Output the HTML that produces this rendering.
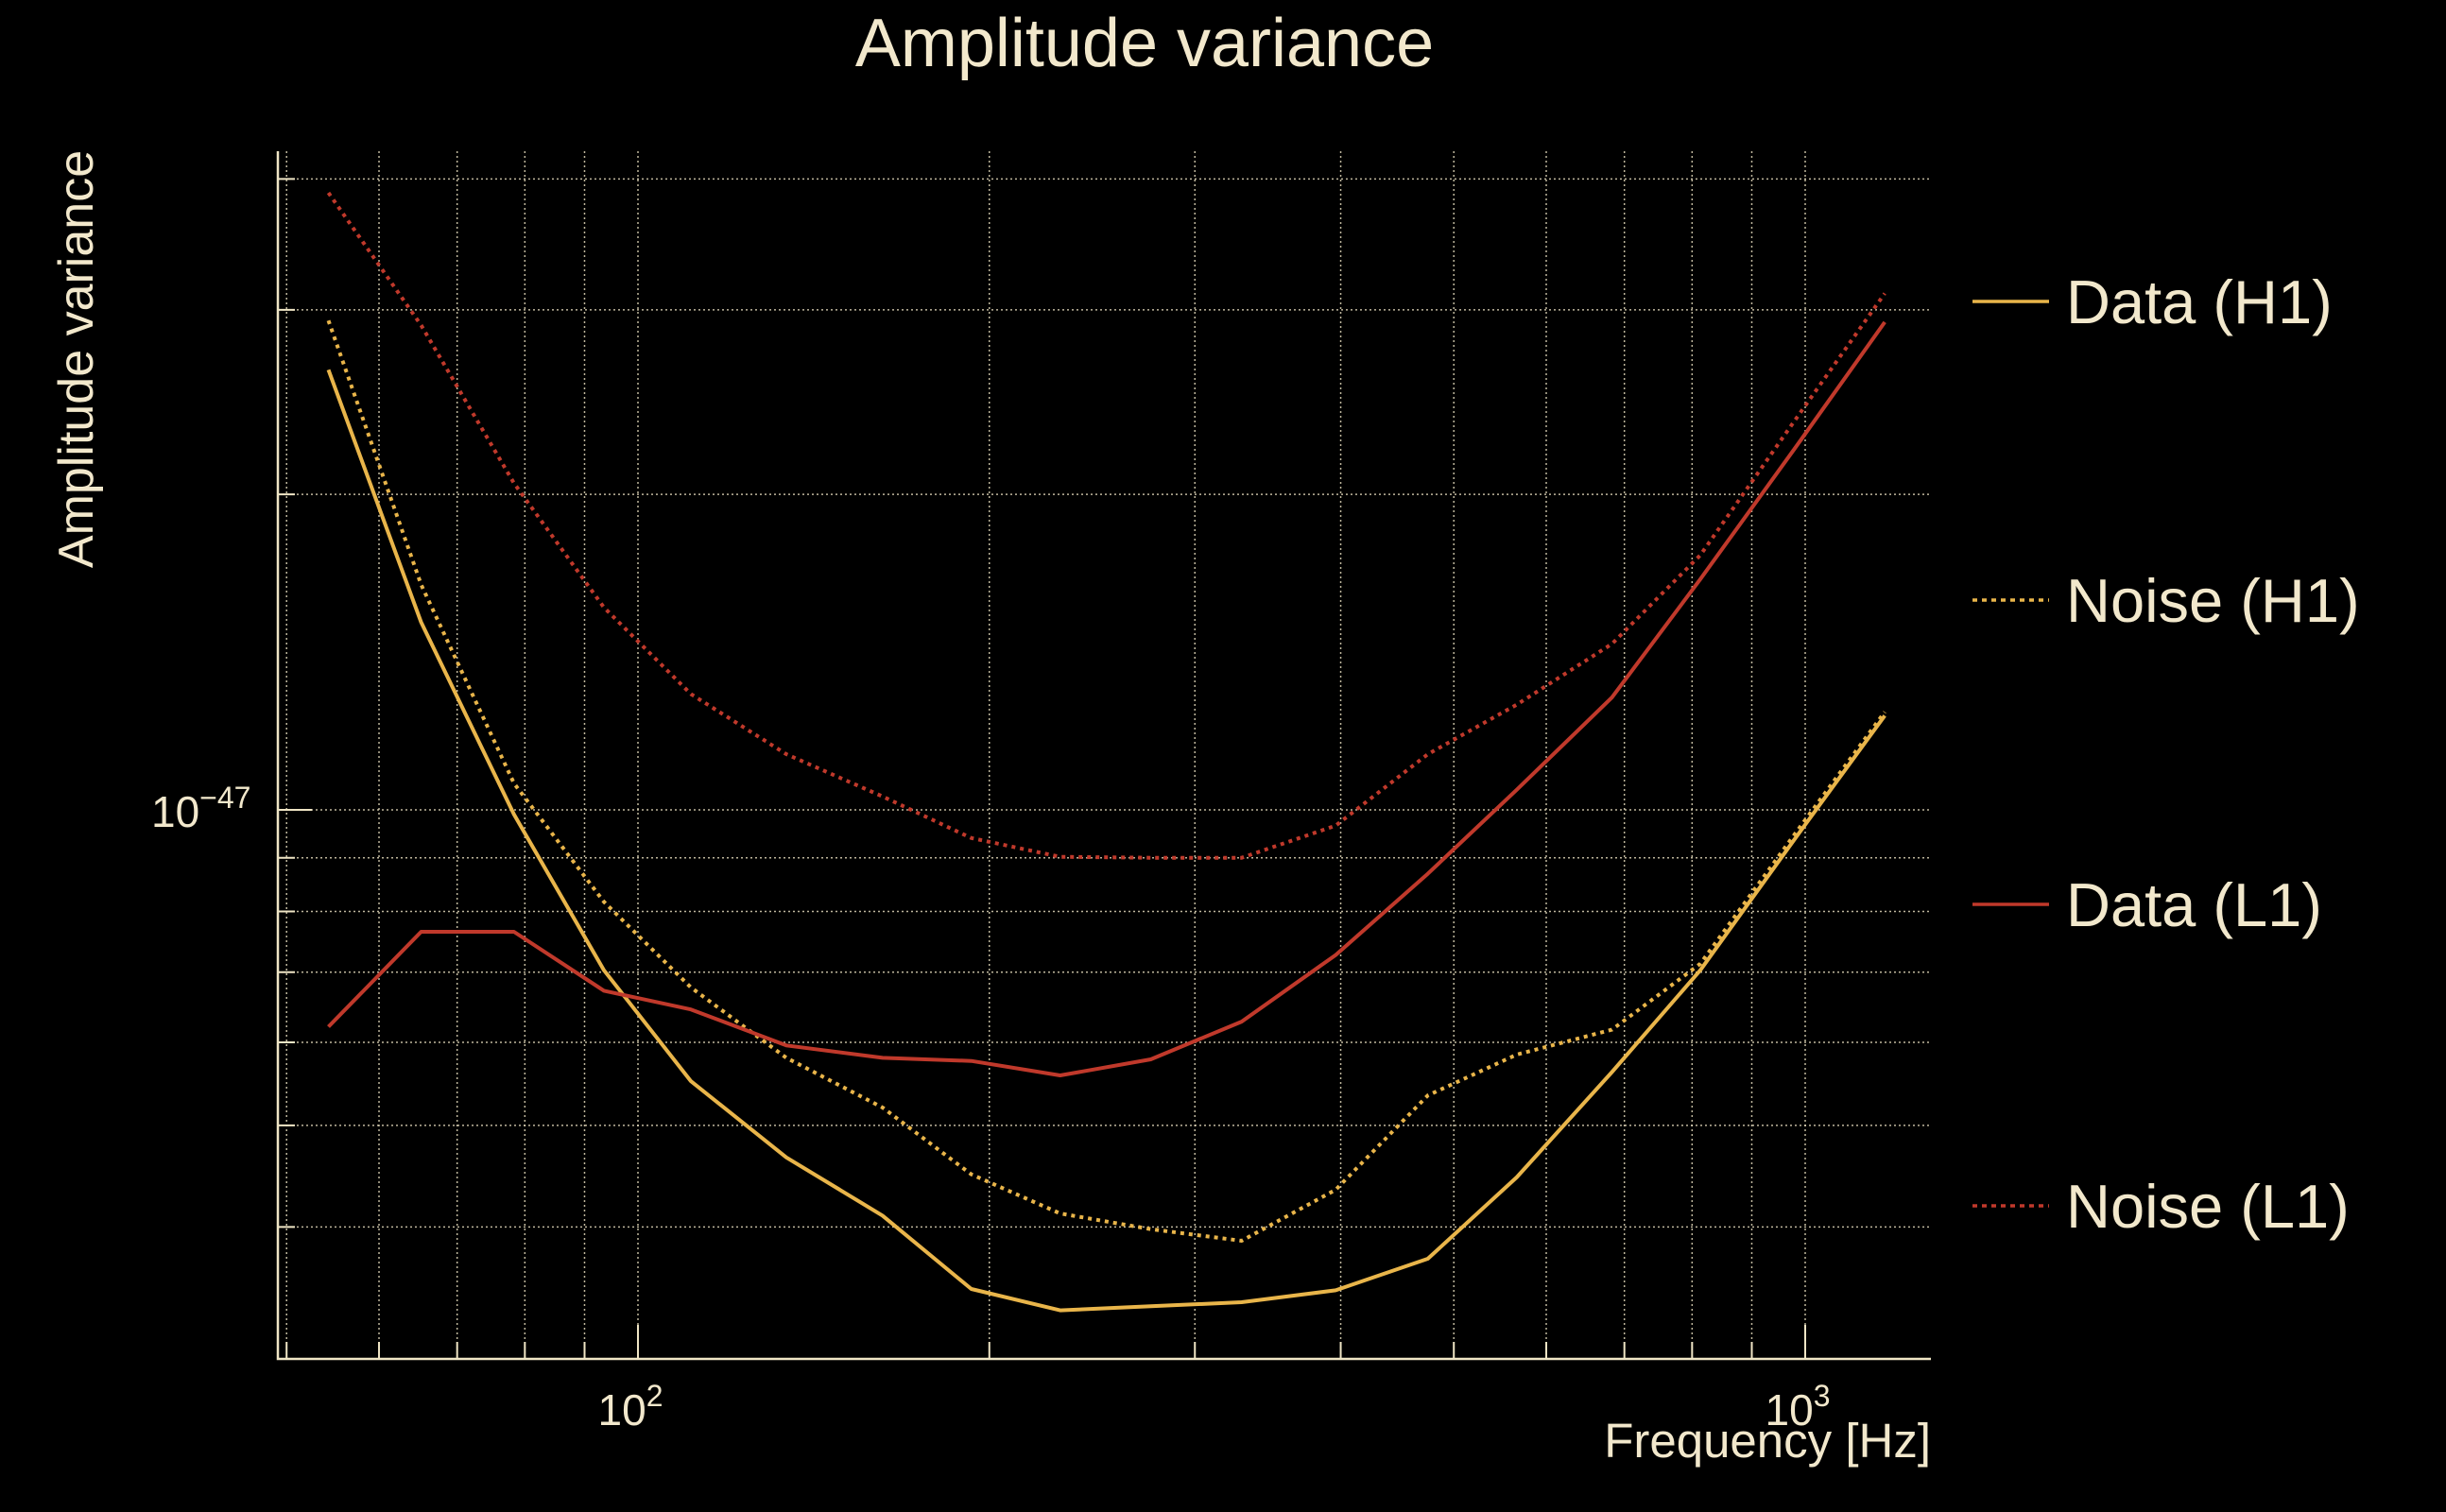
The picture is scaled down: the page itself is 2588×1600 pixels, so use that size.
<!DOCTYPE html>
<html><head><meta charset="utf-8"><style>
html,body{margin:0;padding:0;background:#000;}
svg{display:block;}
text{font-family:"Liberation Sans",sans-serif;fill:#f2e8cc;}
</style></head><body>
<svg id="chart" width="2588" height="1600" viewBox="0 0 2588 1600" xmlns="http://www.w3.org/2000/svg">
<rect width="2588" height="1600" fill="#000"/>
<text x="1211" y="70" font-size="72" text-anchor="middle">Amplitude variance</text>
<text transform="translate(98,380) rotate(-90)" font-size="52" text-anchor="middle">Amplitude variance</text>
<text x="2043" y="1542" font-size="51" text-anchor="end">Frequency [Hz]</text>
<g id="grid"></g>
<g id="series"></g>
<g id="legend"></g>
</svg>
<script>
const freqs = [54.3,65.2,78.3,93.5,111,134,162,193,230,275,329,396,475,566,683,813,979,1170];
const dataH1 = [26.3,15.1,9.90,7.03,5.51,4.66,4.10,3.49,3.33,3.36,3.39,3.48,3.73,4.46,5.62,7.03,9.37,12.3];
const noiseH1 = [29.3,16.4,10.6,8.17,6.77,5.80,5.20,4.49,4.12,3.98,3.88,4.34,5.34,5.84,6.17,7.13,9.47,12.4];
const dataL1 = [6.21,7.65,7.65,6.72,6.45,5.96,5.80,5.76,5.58,5.78,6.28,7.27,8.69,10.45,12.8,16.6,22.1,29.2];
const noiseL1 = [38.8,29.0,20.5,15.6,12.9,11.3,10.3,9.40,9.02,9.0,9.0,9.66,11.3,12.6,14.4,17.5,23.5,31.1];
const xGridVals = [50,60,70,80,90,100,200,300,400,500,600,700,800,900,1000];
const yGridVals = [4,5,6,7,8,9,10,20,30,40];
const legendLabels = ["Data (H1)","Noise (H1)","Data (L1)","Noise (L1)"];

const L=294,R=2043,T=160,B=1438;
const NS="http://www.w3.org/2000/svg";
function xs(f){return 675+(Math.log10(f)-2)*1235;}
function ys(v){return 857-(Math.log10(v)-1)*1109;}
function mk(tag,attrs,parent){const e=document.createElementNS(NS,tag);for(const k in attrs)e.setAttribute(k,attrs[k]);parent.appendChild(e);return e;}
const grid=document.getElementById('grid');
const GC="#efe5c5";
xGridVals.forEach(f=>{
  const x=xs(f);
  const l=mk('line',{x1:x,x2:x,y1:T,y2:B,stroke:GC,'stroke-width':1.5,'stroke-dasharray':'2 3',opacity:0.8},grid);
  
  
  const major=(f===100||f===1000);
  const t=mk('line',{x1:x,x2:x,y1:B,y2:B-(major?36:18),stroke:GC,'stroke-width':2},grid);
  
  
});
yGridVals.forEach(v=>{
  const y=ys(v);
  const l=mk('line',{x1:L,x2:R,y1:y,y2:y,stroke:GC,'stroke-width':1.5,'stroke-dasharray':'2 3',opacity:0.8},grid);
  
  
  const major=(v===10);
  const t=mk('line',{x1:L,x2:L+(major?36:18),y1:y,y2:y,stroke:GC,'stroke-width':2},grid);
  
  
});
const ax=mk('path',{d:`M${L} ${T} V${B} H${R}`,fill:'none',stroke:GC,'stroke-width':2.5},grid);


[[100,"2"],[1000,"3"]].forEach(([f,e])=>{
  const t=mk('text',{x:xs(f)-8,y:1508,'font-size':46,'text-anchor':'middle'},grid);
  
  
  t.innerHTML='10<tspan dy="-20" font-size="32">'+e+'</tspan>';
});
{
  const t=mk('text',{x:160,y:ys(10)+18,'font-size':46},grid);
  
  
  t.innerHTML='10<tspan dy="-20" font-size="32">−47</tspan>';
}
const series=[
  {vals:dataH1,color:'#e9b54a',dash:null,name:'data-h1-line'},
  {vals:noiseH1,color:'#e9b54a',dash:'4 5',name:'noise-h1-line'},
  {vals:dataL1,color:'#c0392b',dash:null,name:'data-l1-line'},
  {vals:noiseL1,color:'#c0392b',dash:'4 5',name:'noise-l1-line'}
];
const sg=document.getElementById('series');
series.forEach(s=>{
  const d=s.vals.map((v,i)=>(i?'L':'M')+xs(freqs[i]).toFixed(1)+' '+ys(v).toFixed(1)).join(' ');
  const a={d:d,fill:'none',stroke:s.color,'stroke-width':4,'stroke-linejoin':'round'};
  if(s.dash)a['stroke-dasharray']=s.dash;
  const p=mk('path',a,sg);
  
  
});
const lg=document.getElementById('legend');
const legY=[319,635,957,1276];
series.forEach((s,i)=>{
  const g=mk('g',{},lg);
  
  
  const a={x1:2087,x2:2168,y1:legY[i],y2:legY[i],stroke:s.color,'stroke-width':3.5};
  if(s.dash)a['stroke-dasharray']='5 5';
  mk('line',a,g);
  const t=mk('text',{x:2186,y:legY[i]+23,'font-size':65},g);
  t.textContent=legendLabels[i];
});
</script>
</body></html>
